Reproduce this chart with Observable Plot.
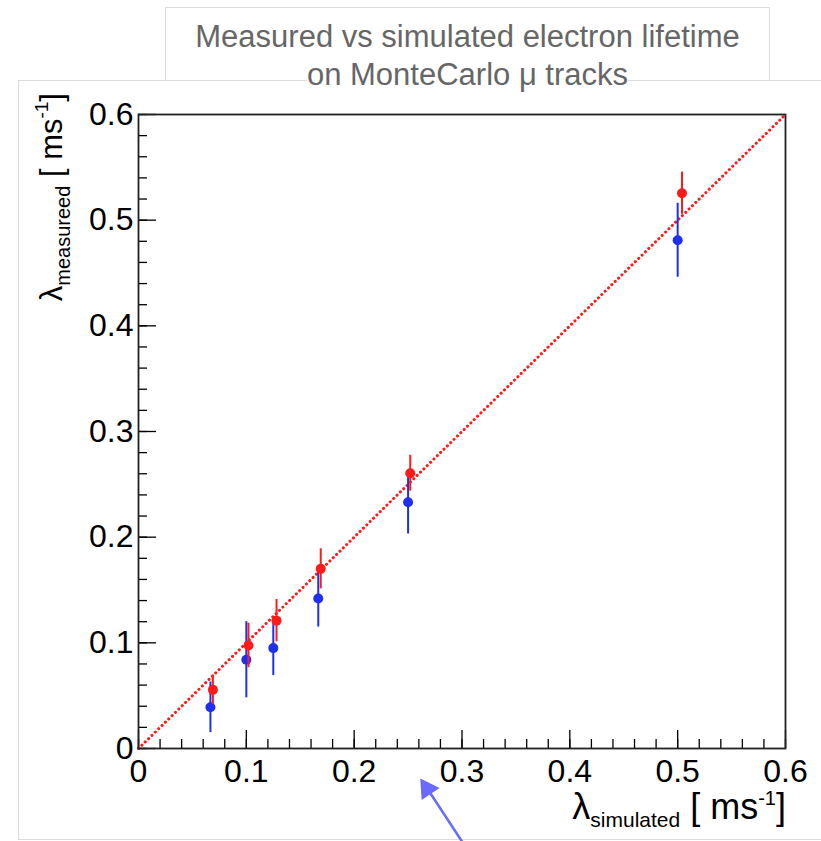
<!DOCTYPE html>
<html>
<head>
<meta charset="utf-8">
<script src="https://cdn.jsdelivr.net/npm/d3@7"></script>
<script src="https://cdn.jsdelivr.net/npm/@observablehq/plot@0.6"></script>
<style>
  html, body { margin: 0; padding: 0; background: #fff; }
  #wrap { position: relative; width: 821px; height: 841px; overflow: hidden; }
  #outer { position: absolute; left: 18px; top: 80px; width: 900px; height: 758px; border: 1px solid #dcdcdc; }
  #chart { position: absolute; left: 0; top: 0; }
  #title { position: absolute; left: 165px; top: 7px; width: 605px; height: 73px; border: 1px solid #dcdcdc; border-bottom: none;
           background: #fff; text-align: center; font-family: "Liberation Sans", Arial, sans-serif; font-size: 31px;
           line-height: 38px; color: #666; padding-top: 10px; box-sizing: border-box; white-space: nowrap; overflow: visible; }
  #title span { background: #fff; }
</style>
</head>
<body>
<div id="wrap">
  <div id="outer"></div>
  <div id="chart"></div>
  <div id="title">Measured vs simulated electron lifetime<br><span>on MonteCarlo μ tracks</span></div>
</div>
<script>
// ---- data ----
const blueX   = [0.0667, 0.100, 0.125, 0.1667, 0.250, 0.500];
const blueY   = [0.039, 0.084, 0.095, 0.142, 0.233, 0.481];
const blueErr = [0.024, 0.036, 0.026, 0.027, 0.030, 0.035];

const redX    = [0.069, 0.102, 0.128, 0.169, 0.252, 0.504];
const redY    = [0.0555, 0.0975, 0.121, 0.170, 0.2605, 0.5255];
const redErr  = [0.014, 0.021, 0.020, 0.019, 0.017, 0.020];

const diagonal = [0, 0.6];               // y = x reference line
const majorTicks = [0, 0.1, 0.2, 0.3, 0.4, 0.5, 0.6];
const minorTicks = [0, 0.02, 0.04, 0.06, 0.08, 0.1, 0.12, 0.14, 0.16, 0.18, 0.2, 0.22, 0.24, 0.26, 0.28, 0.3,
                    0.32, 0.34, 0.36, 0.38, 0.4, 0.42, 0.44, 0.46, 0.48, 0.5, 0.52, 0.54, 0.56, 0.58, 0.6];
const tickLabels = ["0", "0.1", "0.2", "0.3", "0.4", "0.5", "0.6"];
const arrowNote = [{x1: 0.300, y1: -0.088, x2: 0.264, y2: -0.032}];

// ---- build tables ----
const blue = blueX.map((x, i) => ({x, y: blueY[i], lo: blueY[i] - blueErr[i], hi: blueY[i] + blueErr[i]}));
const red  = redX.map((x, i)  => ({x, y: redY[i],  lo: redY[i] - redErr[i],  hi: redY[i] + redErr[i]}));
const diag = diagonal.map(v => ({x: v, y: v}));

const FONT = "'Liberation Sans', Arial, Helvetica, sans-serif";
const BLUE = "#1f2ff0", RED = "#ff1a1a", ARROW = "#6a6aff";
const fmt = d => tickLabels[majorTicks.indexOf(d)] ?? "";

const chart = Plot.plot({
  width: 821, height: 841,
  marginLeft: 138, marginRight: 36, marginTop: 114, marginBottom: 93,
  style: {background: "transparent", fontFamily: FONT, color: "#000", overflow: "visible"},
  x: {domain: [0, 0.6]},
  y: {domain: [0, 0.6]},
  marks: [
    // inward ticks
    Plot.axisX({ticks: minorTicks, tickSize: -9, tickFormat: () => "", label: null, strokeWidth: 1.3}),
    Plot.axisX({ticks: majorTicks, tickSize: -18, tickFormat: () => "", label: null, strokeWidth: 1.3}),
    Plot.axisY({ticks: minorTicks, tickSize: -9, tickFormat: () => "", label: null, strokeWidth: 1.3}),
    Plot.axisY({ticks: majorTicks, tickSize: -18, tickFormat: () => "", label: null, strokeWidth: 1.3}),
    // tick labels
    Plot.axisX({ticks: majorTicks, tickSize: 0, tickPadding: 11, tickFormat: fmt, label: null, fontSize: 32}),
    Plot.axisY({ticks: majorTicks, tickSize: 0, tickPadding: 5, tickFormat: fmt, label: null, fontSize: 32}),
    // diagonal
    Plot.line(diag, {x: "x", y: "y", stroke: RED, strokeWidth: 3, strokeDasharray: "0.1 4.6", strokeLinecap: "round"}),
    // blue series
    Plot.ruleX(blue, {x: "x", y1: "lo", y2: "hi", stroke: BLUE, strokeWidth: 2}),
    Plot.dot(blue, {x: "x", y: "y", r: 5, fill: BLUE, stroke: null}),
    // red series
    Plot.ruleX(red, {x: "x", y1: "lo", y2: "hi", stroke: RED, strokeWidth: 2}),
    Plot.dot(red, {x: "x", y: "y", r: 5, fill: RED, stroke: null}),
    Plot.frame({stroke: "#222", strokeWidth: 1.8}),
    // annotation arrow (shaft + filled head)
    Plot.arrow(arrowNote, {x1: "x1", y1: "y1", x2: "x2", y2: "y2", stroke: ARROW, strokeWidth: 2.5,
                           headLength: 0, insetEnd: 8, clip: false}),
    Plot.dot(arrowNote, {x: "x2", y: "y2", symbol: "triangle", r: 8, rotate: -33.5, fill: ARROW, stroke: null,
                         dx: 4, dy: 6.5, clip: false})
  ]
});
document.getElementById("chart").appendChild(chart);

// axis titles with sub/superscripts
const svg = d3.select(chart);
function axisTitle(g, sub, sz, subSz) {
  const t = g.append("text").attr("font-family", FONT).attr("fill", "#000").attr("text-anchor", "end");
  t.append("tspan").attr("font-size", sz).text("λ");
  t.append("tspan").attr("font-size", subSz).attr("dy", 8).text(sub);
  t.append("tspan").attr("font-size", sz).attr("dy", -8).text(" [ ms");
  t.append("tspan").attr("font-size", subSz - 1).attr("dy", -14).text("-1");
  t.append("tspan").attr("font-size", sz).attr("dy", 14).text("]");
  return t;
}
axisTitle(svg.append("g").attr("transform", "translate(786,819)"), "simulated", 36, 21);
axisTitle(svg.append("g").attr("transform", "translate(62,93) rotate(-90)"), "measureed", 31, 20);
</script>
</body>
</html>
